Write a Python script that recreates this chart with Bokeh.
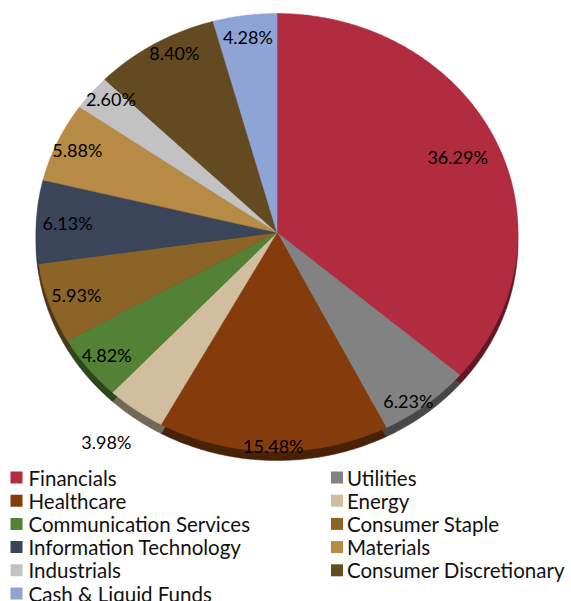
import numpy as np
from bokeh.plotting import figure
from bokeh.models import ColumnDataSource, Range1d
from bokeh.core.properties import value
from bokeh.embed import file_html
from bokeh.resources import INLINE

# ---- data ----
categories = ["Financials", "Utilities", "Healthcare", "Energy",
              "Communication Services", "Consumer Staple", "Information Technology",
              "Materials", "Industrials", "Consumer Discretionary", "Cash & Liquid Funds"]
shares = [36.29, 6.23, 15.48, 3.98, 4.82, 5.93, 6.13, 5.88, 2.60, 8.40, 4.28]
colors = ["#B22C40", "#828282", "#843C0C", "#D0BE9E", "#538135", "#8C6428",
          "#3B4559", "#B78B45", "#C2C2C2", "#644A20", "#8EA4D4"]

# ---- layout (pixels) ----
W, H = 571, 601
CX, CY = 276.5, 369.0          # pie centre
RX, RY = 241.0, 219.0          # elliptical (tilted) radii
DEPTH = 9.0                    # visible thickness of the pie side
label_r = [0.825, 0.944, 0.973, 1.19, 0.90, 0.88, 0.87, 0.91, 0.92, 0.925, 0.90]
label_dt = [0, 2.9, 0, 0.6, 0, 0, 0, 0, 1.8, 3.1, 0]

FONT = value("Lato")

def darker(hexcol, f=0.5):
    r, g, b = (int(hexcol[i:i + 2], 16) for i in (1, 3, 5))
    return "#%02x%02x%02x" % (int(r * f), int(g * f), int(b * f))

vals = np.array(shares, dtype=float)
frac = vals / vals.sum()
ends = np.cumsum(frac) * 360.0
starts = ends - frac * 360.0

def wedge(a0, a1, dy=0.0):
    n = max(4, int((a1 - a0) / 0.5) + 2)
    t = np.radians(np.linspace(a0, a1, n))
    xs = np.concatenate([[CX], CX + RX * np.sin(t)])
    ys = np.concatenate([[CY - dy], CY - dy + RY * np.cos(t)])
    return list(xs), list(ys)

top_x, top_y, rim_x, rim_y = [], [], [], []
for a0, a1 in zip(starts, ends):
    x, y = wedge(a0, a1)
    top_x.append(x); top_y.append(y)
    x, y = wedge(a0, a1, DEPTH)
    rim_x.append(x); rim_y.append(y)

p = figure(width=W, height=H, x_range=Range1d(0, W), y_range=Range1d(0, H),
           output_backend="svg", toolbar_location=None,
           x_axis_type=None, y_axis_type=None, min_border=0)
p.grid.visible = False
p.outline_line_color = None
p.background_fill_color = "white"
p.border_fill_color = "white"

rim_src = ColumnDataSource(dict(xs=rim_x, ys=rim_y,
                                c=[darker(c, 0.55) for c in colors]))
p.patches("xs", "ys", source=rim_src, fill_color="c", line_color="c", line_width=0.5)

top_src = ColumnDataSource(dict(xs=top_x, ys=top_y, c=colors))
p.patches("xs", "ys", source=top_src, fill_color="c", line_color="c", line_width=0.5)

# ---- data labels ----
mids = (starts + ends) / 2.0 + np.array(label_dt)
lr = np.array(label_r)
lx = CX + RX * lr * np.sin(np.radians(mids))
ly = CY + RY * lr * np.cos(np.radians(mids))
lab_src = ColumnDataSource(dict(x=lx, y=ly, t=["%.2f%%" % v for v in shares]))
p.text("x", "y", text="t", source=lab_src, text_font=FONT, text_font_size="18px",
       text_align="center", text_baseline="middle", text_color="#000000")

# ---- legend ----
ROW0, ROW_STEP = 124.0, 23.2
COL_SQ = [16.0, 336.5]
COL_TX = [28.0, 346.5]
idx = np.arange(len(categories))
rows = idx // 2
cols = idx % 2
leg_src = ColumnDataSource(dict(
    sx=[COL_SQ[c] for c in cols], tx=[COL_TX[c] for c in cols],
    y=ROW0 - ROW_STEP * rows, name=categories, c=colors))
p.rect("sx", "y", width=12, height=12, source=leg_src, fill_color="c", line_color=None)
p.text("tx", "y", text="name", source=leg_src, text_font=FONT, text_font_size="20.5px",
       text_align="left", text_baseline="middle", text_color="#111111")

open("out.html", "w").write(file_html(p, INLINE))
